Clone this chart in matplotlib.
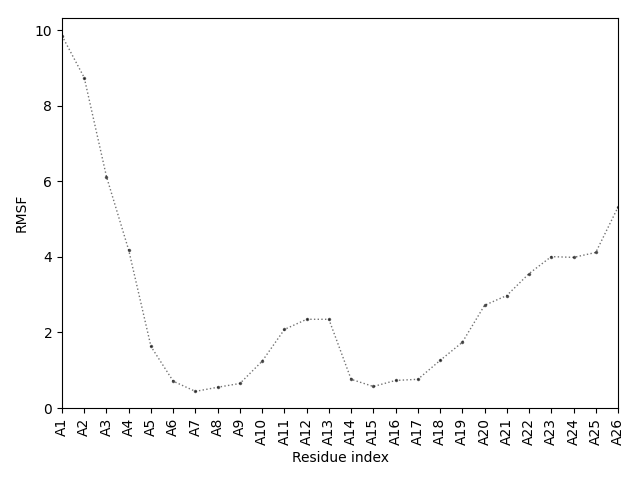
import matplotlib
matplotlib.use("Agg")
import matplotlib.pyplot as plt

residues = [f"A{i}" for i in range(1, 27)]
rmsf = [9.86, 8.75, 6.13, 4.18, 1.63, 0.71, 0.44, 0.55, 0.65, 1.24, 2.08, 2.35, 2.35,
        0.76, 0.57, 0.73, 0.76, 1.26, 1.74, 2.72, 2.98, 3.56, 4.01, 3.99, 4.12, 5.32]

fig, ax = plt.subplots(figsize=(6.4, 4.8), dpi=100)
x = list(range(len(residues)))
ax.plot(x, rmsf, linestyle=':', color='k', alpha=0.55, marker='o', markersize=1.5, linewidth=1)
ax.set_xticks(x)
ax.set_xticklabels(residues, rotation=90)
ax.set_xlim(0, len(residues) - 1)
ax.set_ylim(bottom=0)
ax.set_xlabel("Residue index")
ax.set_ylabel("RMSF")
fig.subplots_adjust(left=62/640, right=618/640, top=1-18/480, bottom=1-408/480)
fig.savefig("out.png")
